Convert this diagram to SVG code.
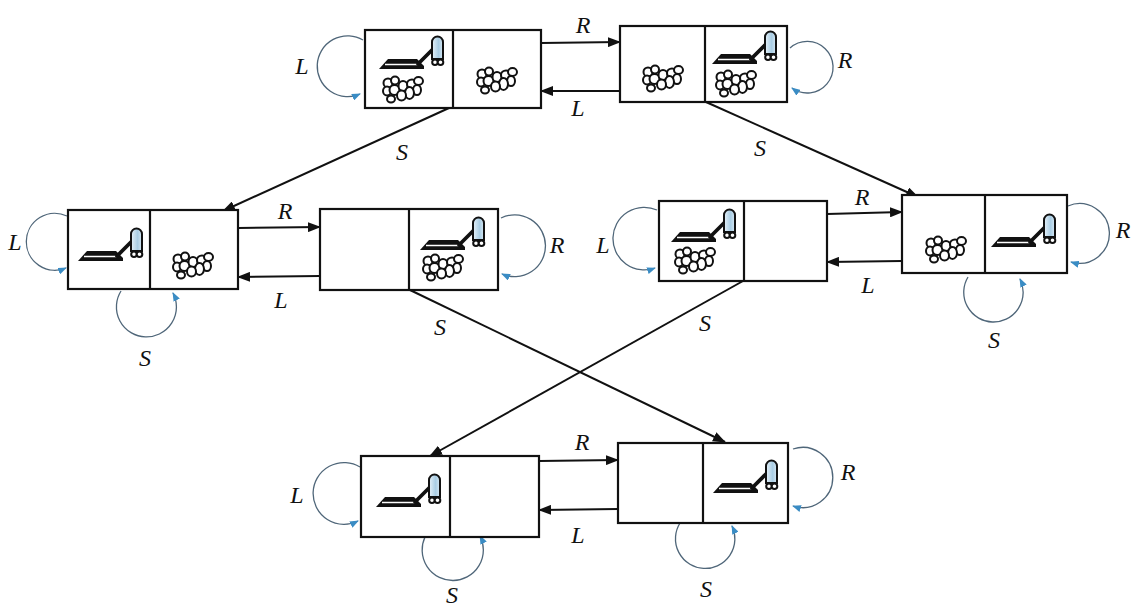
<svg xmlns="http://www.w3.org/2000/svg" xmlns:xlink="http://www.w3.org/1999/xlink" width="1134" height="610" viewBox="0 0 1134 610">
  <style>
    .box { fill: #fff; stroke: #111; stroke-width: 2.2; }
    .div { stroke: #111; stroke-width: 2.2; }
    .edge { fill: none; stroke: #111; stroke-width: 2; marker-end: url(#arrow); }
    .loop { fill: none; stroke: #4f6679; stroke-width: 1.3; marker-end: url(#loopArrow); }
    .lbl { font-family: "Liberation Serif", "DejaVu Serif", serif; font-style: italic; font-size: 24px; fill: #111; text-anchor: middle; dominant-baseline: central; }
  </style>
  <defs>
    <marker id="arrow" markerUnits="userSpaceOnUse" markerWidth="13" markerHeight="10" refX="12" refY="5" orient="auto">
      <path d="M0,0 L13,5 L0,10 z" fill="#111"/>
    </marker>
    <marker id="loopArrow" markerUnits="userSpaceOnUse" markerWidth="9" markerHeight="7" refX="8" refY="3.5" orient="auto">
      <path d="M0,0 L9,3.5 L0,7 z" fill="#3a8cc4"/>
    </marker>
    <linearGradient id="canFill" x1="0" y1="0" x2="1" y2="0">
      <stop offset="0" stop-color="#e6f1f8"/>
      <stop offset="0.6" stop-color="#a9cde4"/>
      <stop offset="1" stop-color="#d7e8f3"/>
    </linearGradient>
    <!-- vacuum cleaner, origin at the left tip of the nozzle plate -->
    <g id="vac">
      <path d="M0,0 L9,-10 L38,-10 L45,-3 L45,0 Z" fill="#111"/>
      <path d="M6,-4.5 L39,-4.5" stroke="#fff" stroke-width="1.3"/>
      <path d="M39,-5 L53,-19" stroke="#111" stroke-width="3.8" stroke-linecap="round"/>
      <path d="M53,-10 V-27 A5.5,5.5 0 0 1 64,-27 V-10 Z" fill="url(#canFill)" stroke="#111" stroke-width="2"/>
      <circle cx="56" cy="-6.8" r="2.8" fill="#fff" stroke="#111" stroke-width="2"/>
      <circle cx="61.5" cy="-6.8" r="2.8" fill="#fff" stroke="#111" stroke-width="2"/>
    </g>
    <!-- pile of dirt, origin at top-left -->
    <g id="dirt" fill="#fff" stroke="#111" stroke-width="2">
      <ellipse cx="6" cy="7" rx="4.5" ry="4.5"/>
      <ellipse cx="13" cy="4.5" rx="4" ry="4"/>
      <ellipse cx="5" cy="15" rx="4" ry="4.5"/>
      <ellipse cx="9" cy="23" rx="4" ry="3.5"/>
      <ellipse cx="12.5" cy="14" rx="5" ry="5"/>
      <ellipse cx="21" cy="10" rx="4.5" ry="5"/>
      <ellipse cx="30" cy="8" rx="5" ry="4.5"/>
      <ellipse cx="36.5" cy="5" rx="4.5" ry="4"/>
      <ellipse cx="35" cy="14" rx="4" ry="5"/>
      <ellipse cx="27.5" cy="17" rx="4.5" ry="6"/>
      <ellipse cx="19.5" cy="19.5" rx="4.5" ry="5"/>
    </g>
  </defs>

  <rect width="1134" height="610" fill="#fff"/>

  <!-- state transitions -->
  <g id="connectors">
    <path class="edge" d="M541,43 L620,42"/>
    <path class="edge" d="M620,91 L541,91"/>
    <path class="edge" d="M449,108 L223,211"/>
    <path class="edge" d="M706,102 L918,197"/>

    <path class="edge" d="M238,228 L320,227"/>
    <path class="edge" d="M320,276 L238,277"/>
    <path class="edge" d="M827,214 L902,212"/>
    <path class="edge" d="M902,261 L827,262"/>

    <path class="edge" d="M410,290 L725,442"/>
    <path class="edge" d="M743,281 L430,456"/>

    <path class="edge" d="M539,461 L618,460"/>
    <path class="edge" d="M618,509 L539,510"/>

    <!-- self loops -->
    <path class="loop" d="M363,40 A30.4,30.4 0 1 0 360,94"/>
    <path class="loop" d="M790,48 A25.8,25.8 0 1 1 792,88"/>
    <path class="loop" d="M67,216 A28.5,28.5 0 1 0 66,268"/>
    <path class="loop" d="M121,291 A30,30 0 1 0 173,293"/>
    <path class="loop" d="M501,218 A30.9,30.9 0 1 1 502,274"/>
    <path class="loop" d="M657,210 A31.3,31.3 0 1 0 655,268"/>
    <path class="loop" d="M1068,206 A29.8,29.8 0 1 1 1071,262"/>
    <path class="loop" d="M968,277 A29.7,29.7 0 1 0 1020,279"/>
    <path class="loop" d="M360,467 A30.9,30.9 0 1 0 358,521"/>
    <path class="loop" d="M425,537 A30.6,30.6 0 1 0 480,536"/>
    <path class="loop" d="M793,449 A30.1,30.1 0 1 1 793,506"/>
    <path class="loop" d="M680,523 A29.7,29.7 0 1 0 732,526"/>
  </g>

  <g id="labels">
    <text class="lbl" x="583" y="25">R</text>
    <text class="lbl" x="578" y="108">L</text>
    <text class="lbl" x="302" y="66">L</text>
    <text class="lbl" x="845" y="60">R</text>
    <text class="lbl" x="402" y="152">S</text>
    <text class="lbl" x="760" y="148">S</text>

    <text class="lbl" x="15" y="242">L</text>
    <text class="lbl" x="145" y="358">S</text>
    <text class="lbl" x="285" y="211">R</text>
    <text class="lbl" x="281" y="300">L</text>
    <text class="lbl" x="557" y="245">R</text>
    <text class="lbl" x="440" y="327">S</text>

    <text class="lbl" x="603" y="245">L</text>
    <text class="lbl" x="862" y="197">R</text>
    <text class="lbl" x="868" y="285">L</text>
    <text class="lbl" x="705" y="323">S</text>
    <text class="lbl" x="1123" y="230">R</text>
    <text class="lbl" x="994" y="340">S</text>

    <text class="lbl" x="297" y="495">L</text>
    <text class="lbl" x="452" y="595">S</text>
    <text class="lbl" x="582" y="442">R</text>
    <text class="lbl" x="578" y="535">L</text>
    <text class="lbl" x="848" y="472">R</text>
    <text class="lbl" x="706" y="589">S</text>
  </g>

  <!-- states: vacuum in left/right square, dirt in each square -->
  <g id="state-A">
    <rect class="box" x="365" y="30" width="176" height="78"/>
    <line class="div" x1="453" y1="30" x2="453" y2="108"/>
    <use href="#vac" x="379" y="69"/>
    <use href="#dirt" x="382" y="76"/>
    <use href="#dirt" x="476" y="67"/>
  </g>
  <g id="state-B">
    <rect class="box" x="620" y="26" width="167" height="76"/>
    <line class="div" x1="705" y1="26" x2="705" y2="102"/>
    <use href="#vac" x="712" y="64"/>
    <use href="#dirt" x="642" y="65"/>
    <use href="#dirt" x="715" y="70"/>
  </g>
  <g id="state-C">
    <rect class="box" x="68" y="210" width="170" height="79"/>
    <line class="div" x1="150" y1="210" x2="150" y2="289"/>
    <use href="#vac" x="78" y="261"/>
    <use href="#dirt" x="172" y="252"/>
  </g>
  <g id="state-D">
    <rect class="box" x="320" y="209" width="178" height="81"/>
    <line class="div" x1="409" y1="209" x2="409" y2="290"/>
    <use href="#vac" x="420" y="250"/>
    <use href="#dirt" x="422" y="254"/>
  </g>
  <g id="state-E">
    <rect class="box" x="659" y="201" width="168" height="80"/>
    <line class="div" x1="744" y1="201" x2="744" y2="281"/>
    <use href="#vac" x="671" y="242"/>
    <use href="#dirt" x="674" y="247"/>
  </g>
  <g id="state-F">
    <rect class="box" x="902" y="195" width="165" height="78"/>
    <line class="div" x1="985" y1="195" x2="985" y2="273"/>
    <use href="#vac" x="991" y="247"/>
    <use href="#dirt" x="925" y="236"/>
  </g>
  <g id="state-G">
    <rect class="box" x="361" y="456" width="178" height="81"/>
    <line class="div" x1="450" y1="456" x2="450" y2="537"/>
    <use href="#vac" x="376" y="507"/>
  </g>
  <g id="state-H">
    <rect class="box" x="618" y="443" width="170" height="80"/>
    <line class="div" x1="703" y1="443" x2="703" y2="523"/>
    <use href="#vac" x="713" y="493"/>
  </g>
</svg>
